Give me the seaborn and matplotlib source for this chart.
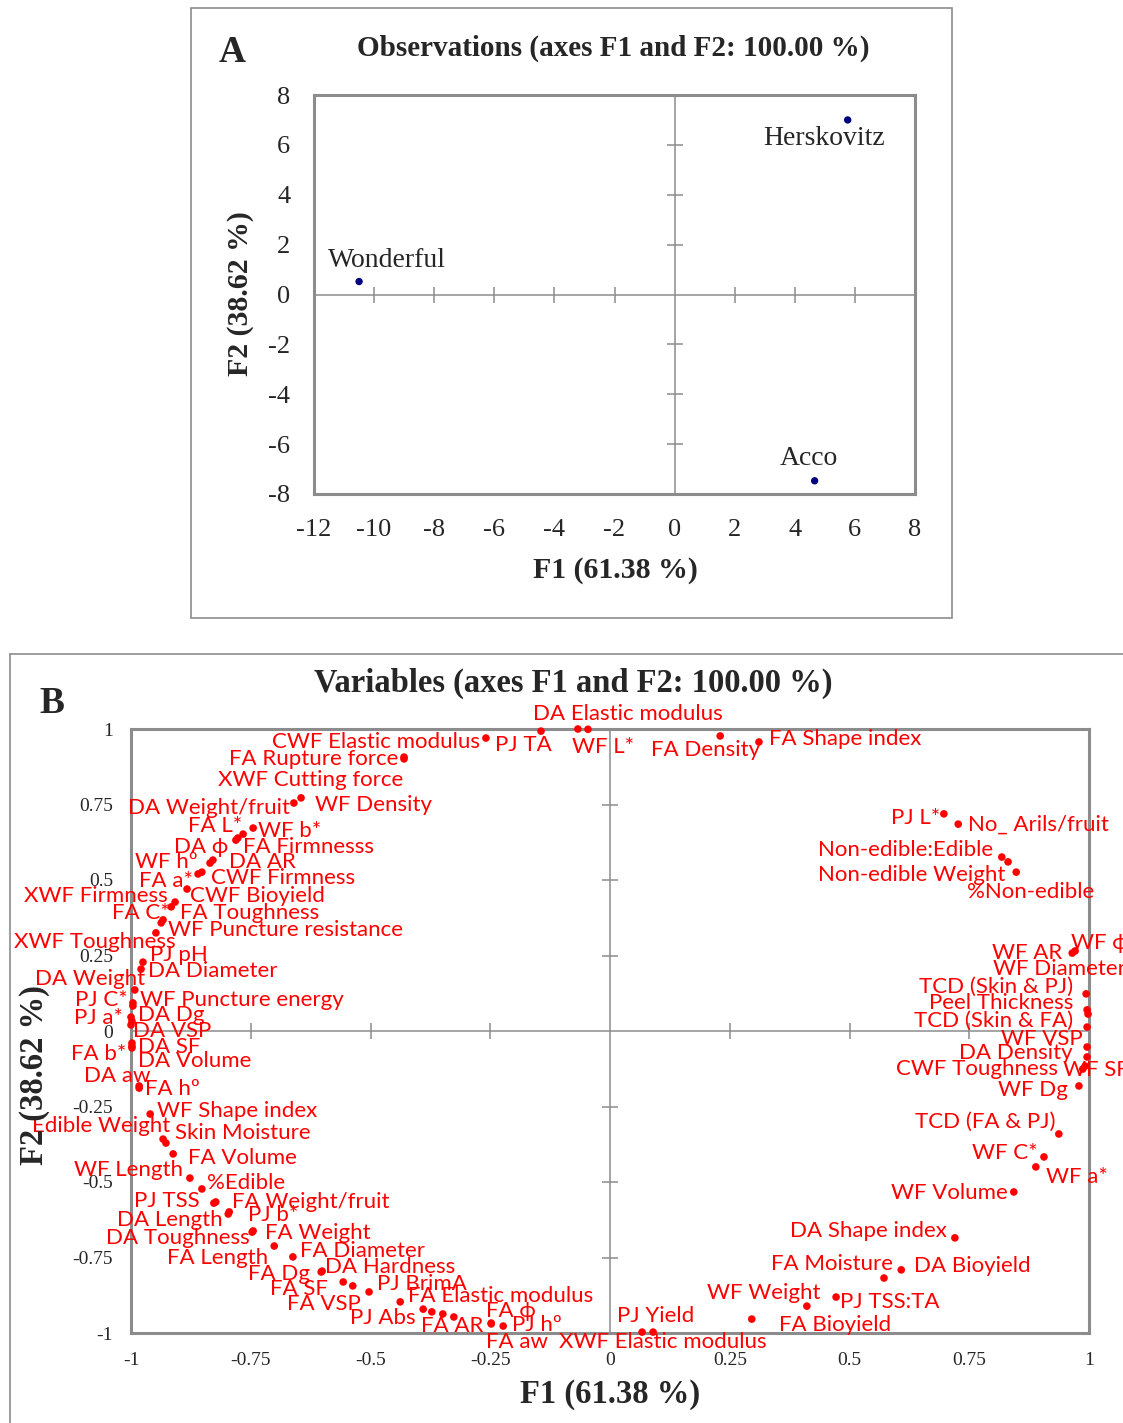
import numpy as np
import pandas as pd
import matplotlib
matplotlib.use("Agg")
import matplotlib.pyplot as plt
from matplotlib.lines import Line2D
from matplotlib.patches import Rectangle
import seaborn as sns

sns.set_style("white")
plt.rcParams['font.family'] = ['Liberation Serif', 'DejaVu Serif']

## Observations (panel A) ##
obs_names = ["Wonderful", "Herskovitz", "Acco"]
obs_f1 = [-10.50, 5.76, 4.66]
obs_f2 = [0.52, 7.00, -7.47]

## Variables (panel B) ##
var_names = [
    "CWF Elastic modulus", "PJ TA", "DA Elastic modulus", "WF L*", "FA Density",
    "FA Shape index", "FA Rupture force", "XWF Cutting force", "DA Weight/fruit", "WF Density",
    "FA L*", "WF b*", "FA Firmnesss", "DA \u03d5", "DA AR",
    "WF h\u00ba", "CWF Firmness", "FA a*", "XWF Firmness", "CWF Bioyield",
    "FA C*", "FA Toughness", "WF Puncture resistance", "XWF Toughness", "PJ pH",
    "DA Diameter", "DA Weight", "PJ C*", "WF Puncture energy", "PJ a*",
    "DA Dg", "DA VSP", "DA SF", "FA b*", "DA Volume",
    "DA aw", "FA h\u00ba", "WF Shape index", "Edible Weight", "Skin Moisture",
    "FA Volume", "WF Length", "%Edible", "PJ TSS", "FA Weight/fruit",
    "DA Length", "PJ b*", "DA Toughness", "FA Weight", "FA Length",
    "FA Diameter", "FA Dg", "DA Hardness", "FA SF", "FA VSP",
    "PJ BrimA", "FA Elastic modulus", "PJ Abs", "FA AR", "",
    "", "FA \u03d5", "PJ h\u00ba", "FA aw", "PJ Yield",
    "XWF Elastic modulus", "FA Bioyield", "WF Weight", "PJ TSS:TA", "FA Moisture",
    "DA Bioyield", "DA Shape index", "WF Volume", "WF a*", "WF C*",
    "TCD (FA & PJ)", "WF Dg", "CWF Toughness", "WF SF", "DA Density",
    "WF VSP", "TCD (Skin & FA)", "Peel Thickness", "WF Diameter", "TCD (Skin & PJ)",
    "WF AR", "WF \u03d5", "PJ L*", "No_ Arils/fruit", "Non-edible:Edible",
    "Non-edible Weight", "%Non-edible",
]
var_f1 = [
    -0.259, -0.144, -0.067, -0.046, 0.230,
    0.311, -0.430, -0.430, -0.660, -0.645,
    -0.766, -0.745, -0.777, -0.781, -0.829,
    -0.835, -0.852, -0.860, -0.883, -0.908,
    -0.916, -0.933, -0.937, -0.948, -0.975,
    -0.979, -0.992, -0.996, -0.996, -1.000,
    -0.998, -1.000, -0.998, -0.998, -0.998,
    -0.983, -0.983, -0.960, -0.933, -0.927,
    -0.912, -0.877, -0.852, -0.827, -0.823,
    -0.797, -0.795, -0.747, -0.745, -0.701,
    -0.662, -0.603, -0.601, -0.557, -0.537,
    -0.503, -0.438, -0.390, -0.349, -0.372,
    -0.326, -0.248, -0.223, -0.248, 0.067,
    0.090, 0.296, 0.411, 0.472, 0.572,
    0.608, 0.720, 0.843, 0.889, 0.906,
    0.937, 0.979, 0.987, 0.992, 0.996,
    0.996, 0.996, 0.996, 0.998, 0.994,
    0.965, 0.971, 0.697, 0.727, 0.818,
    0.831, 0.848,
]
var_f2 = [
    0.970, 0.993, 1.000, 0.999, 0.977,
    0.957, 0.907, 0.901, 0.755, 0.772,
    0.652, 0.672, 0.639, 0.632, 0.566,
    0.556, 0.526, 0.520, 0.470, 0.427,
    0.411, 0.368, 0.358, 0.325, 0.228,
    0.205, 0.136, 0.093, 0.083, 0.046,
    0.033, 0.020, -0.040, -0.050, -0.056,
    -0.182, -0.189, -0.275, -0.358, -0.371,
    -0.407, -0.487, -0.523, -0.570, -0.566,
    -0.606, -0.599, -0.666, -0.662, -0.712,
    -0.748, -0.798, -0.795, -0.831, -0.844,
    -0.864, -0.897, -0.921, -0.937, -0.930,
    -0.947, -0.967, -0.977, -0.970, -0.997,
    -0.997, -0.954, -0.911, -0.881, -0.818,
    -0.791, -0.685, -0.533, -0.450, -0.417,
    -0.341, -0.182, -0.126, -0.116, -0.086,
    -0.053, 0.013, 0.070, 0.056, 0.123,
    0.258, 0.265, 0.719, 0.685, 0.576,
    0.560, 0.526,
]

# label placement: offset in pixels from the dot (dx, dy up) and anchor side
label_pos = [
    (-6, -4, 'right'), (-46, -14, 'left'), (-45, 15, 'left'), (-16, -18, 'left'), (-69, -14, 'left'),
    (10, 3, 'left'), (-6, -2, 'right'), (-1, -21, 'right'), (-4, -5, 'right'), (14, -7, 'left'),
    (-1, 8, 'right'), (5, -3, 'left'), (5, -9, 'left'), (-8, -7, 'right'), (16, -2, 'left'),
    (-12, 1, 'right'), (9, -6, 'left'), (-5, -7, 'right'), (-19, -7, 'right'), (15, 6, 'left'),
    (-1, -6, 'right'), (17, 7, 'left'), (7, -7, 'left'), (20, -9, 'right'), (7, 7, 'left'),
    (7, -2, 'left'), (10, 11, 'right'), (-5, 3, 'right'), (7, 6, 'left'), (-8, -1, 'right'),
    (6, 6, 'left'), (2, -6, 'left'), (6, -4, 'left'), (-6, -8, 'right'), (6, -13, 'left'),
    (11, 10, 'right'), (6, -1, 'left'), (7, 3, 'left'), (7, 13, 'right'), (9, 10, 'left'),
    (15, -4, 'left'), (-7, 8, 'right'), (5, 6, 'left'), (-14, 2, 'right'), (16, 0, 'left'),
    (-6, -6, 'right'), (19, -3, 'left'), (-2, -6, 'right'), (12, -2, 'left'), (-6, -12, 'right'),
    (7, 6, 'left'), (-11, -2, 'right'), (3, 4, 'left'), (-15, -7, 'right'), (8, -18, 'right'),
    (8, 8, 'left'), (8, 6, 'left'), (-8, -9, 'right'), (-22, -12, 'left'), (0, 0, 'left'),
    (0, 0, 'left'), (-5, 12, 'left'), (9, 1, 'left'), (-5, -18, 'left'), (-25, 16, 'left'),
    (-94, -10, 'left'), (27, -6, 'left'), (14, 13, 'right'), (4, -5, 'left'), (9, 14, 'right'),
    (13, 4, 'left'), (-8, 7, 'right'), (-6, -1, 'right'), (10, -10, 'left'), (-6, 4, 'right'),
    (-3, 12, 'right'), (-11, -4, 'right'), (-25, 0, 'right'), (-22, -4, 'left'), (-14, 4, 'right'),
    (-4, 8, 'right'), (-14, 6, 'right'), (-14, 7, 'right'), (-95, 45, 'left'), (-13, 7, 'right'),
    (-10, 0, 'right'), (-4, 8, 'left'), (-4, -4, 'right'), (10, -1, 'left'), (-9, 7, 'right'),
    (-3, -13, 'right'), (-49, -20, 'left'),
]

obs_x_ticks = [-12, -10, -8, -6, -4, -2, 0, 2, 4, 6, 8]
obs_y_ticks = [-8, -6, -4, -2, 0, 2, 4, 6, 8]
var_ticks = [-1, -0.75, -0.5, -0.25, 0, 0.25, 0.5, 0.75, 1]
var_tick_labels = ["-1", "-0.75", "-0.5", "-0.25", "0", "0.25", "0.5", "0.75", "1"]

obs_df = pd.DataFrame({"F1": obs_f1, "F2": obs_f2, "Name": obs_names})
var_df = pd.DataFrame({"F1": var_f1, "F2": var_f2, "Name": var_names})

W, H = 1123, 1423
fig = plt.figure(figsize=(W / 100, H / 100), dpi=100)


def fx(px):
    return px / W


def fy(py):
    return 1 - py / H


grey = "#8c8c8c"


def frame_axes(ax, inner_x, inner_y, tick_len):
    for s in ax.spines.values():
        s.set_color(grey)
        s.set_linewidth(2.2)
    ax.axhline(0, color=grey, lw=1.1, zorder=1)
    ax.axvline(0, color=grey, lw=1.1, zorder=1)
    ax.plot(inner_x, np.zeros(len(inner_x)), ls='none', marker='|', ms=tick_len,
            mew=1.1, color=grey, zorder=1)
    ax.plot(np.zeros(len(inner_y)), inner_y, ls='none', marker='_', ms=tick_len,
            mew=1.1, color=grey, zorder=1)
    ax.tick_params(length=0)
    ax.set_xlabel("")
    ax.set_ylabel("")


# ---------- panel A ----------
fig.add_artist(Rectangle((fx(191), fy(618)), fx(952) - fx(191), fy(8) - fy(618),
                         transform=fig.transFigure, fill=False, ec=grey, lw=1.2))
axA = fig.add_axes([fx(314), fy(494), fx(915) - fx(314), fy(95) - fy(494)])
sns.scatterplot(data=obs_df, x="F1", y="F2", ax=axA, color="#000080", s=28,
                edgecolor="none", zorder=3)
axA.set_xlim(-12, 8)
axA.set_ylim(-8, 8)
axA.set_xticks(obs_x_ticks)
axA.set_yticks(obs_y_ticks)
axA.set_xticklabels([str(t) for t in obs_x_ticks], fontsize=19)
axA.set_yticklabels([str(t) for t in obs_y_ticks], fontsize=19)
axA.tick_params(axis='x', pad=18)
axA.tick_params(axis='y', pad=17)
frame_axes(axA, [t for t in obs_x_ticks if t not in (-12, 0, 8)],
           [t for t in obs_y_ticks if t not in (-8, 0, 8)], 12)
obs_label_pos = [(-31, 21, 'left'), (-84, -19, 'left'), (-35, 22, 'left')]
for (name, x, y), (dx, dy, ha) in zip(obs_df[["Name", "F1", "F2"]].values, obs_label_pos):
    axA.annotate(name, (x, y), xytext=(dx, dy), textcoords='offset pixels',
                 ha=ha, va='center', fontsize=20)
fig.text(fx(613), fy(48), "Observations (axes F1 and F2: 100.00 %)", ha='center',
         va='center', fontsize=21, fontweight='bold')
fig.text(fx(232), fy(52), "A", ha='center', va='center', fontsize=27, fontweight='bold')
fig.text(fx(615), fy(570), "F1 (61.38 %)", ha='center', va='center', fontsize=21.5,
         fontweight='bold')
fig.text(fx(240), fy(294), "F2 (38.62 %)", ha='center', va='center', fontsize=21.5,
         fontweight='bold', rotation=90)

# ---------- panel B ----------
fig.add_artist(Line2D([fx(10), 1.0], [fy(654), fy(654)], transform=fig.transFigure,
                      color=grey, lw=1.2))
fig.add_artist(Line2D([fx(10), fx(10)], [fy(654), 0.0], transform=fig.transFigure,
                      color=grey, lw=1.2))
axB = fig.add_axes([fx(131), fy(1333), fx(1089) - fx(131), fy(729) - fy(1333)])
sns.scatterplot(data=var_df, x="F1", y="F2", ax=axB, color="#ff0000", s=30,
                edgecolor="none", zorder=3, clip_on=False)
axB.set_xlim(-1, 1)
axB.set_ylim(-1, 1)
axB.set_xticks(var_ticks)
axB.set_yticks(var_ticks)
axB.set_xticklabels(var_tick_labels, fontsize=14)
axB.set_yticklabels(var_tick_labels, fontsize=14)
axB.tick_params(axis='x', pad=14)
axB.tick_params(axis='y', pad=13)
frame_axes(axB, [-0.75, -0.5, -0.25, 0.25, 0.5, 0.75], [-0.75, -0.5, -0.25, 0.25, 0.5, 0.75], 12)
for (name, x, y), (dx, dy, ha) in zip(var_df[["Name", "F1", "F2"]].values, label_pos):
    if name:
        axB.annotate(name, (x, y), xytext=(dx, dy), textcoords='offset pixels',
                     ha=ha, va='center', fontsize=16, color="#ff0000",
                     family=['Lato', 'DejaVu Sans'], annotation_clip=False, zorder=4)
fig.text(fx(573), fy(683), "Variables (axes F1 and F2: 100.00 %)", ha='center',
         va='center', fontsize=23.5, fontweight='bold')
fig.text(fx(52), fy(703), "B", ha='center', va='center', fontsize=27, fontweight='bold')
fig.text(fx(610), fy(1395), "F1 (61.38 %)", ha='center', va='center', fontsize=23.5,
         fontweight='bold')
fig.text(fx(35), fy(1075), "F2 (38.62 %)", ha='center', va='center', fontsize=23.5,
         fontweight='bold', rotation=90)

fig.savefig("out.png", dpi=100)
